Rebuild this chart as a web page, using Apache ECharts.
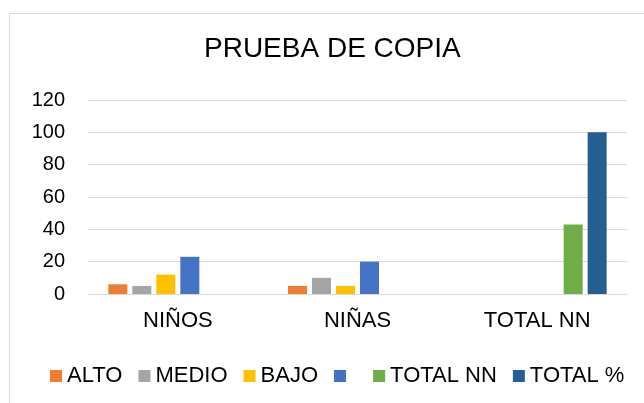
<!DOCTYPE html>
<html>
<head>
<meta charset="utf-8">
<title>PRUEBA DE COPIA</title>
<script src="https://cdn.jsdelivr.net/npm/echarts@6/dist/echarts.min.js"></script>
<style>
  html, body { margin: 0; padding: 0; background: #fff; }
  #chart { width: 644px; height: 403px; }
</style>
</head>
<body>
<div id="chart"></div>
<script>
  // datos
  const categories = ['NIÑOS', 'NIÑAS', 'TOTAL NN'];
  const alto = [6, 5, null];
  const medio = [5, 10, null];
  const bajo = [12, 5, null];
  const totalSinNombre = [23, 20, null];
  const totalNN = [null, null, 43];
  const totalPct = [null, null, 100];
  const yTicks = [0, 20, 40, 60, 80, 100, 120];

  const seriesDefs = [
    { name: 'ALTO', data: alto, color: '#ED7D31' },
    { name: 'MEDIO', data: medio, color: '#A5A5A5' },
    { name: 'BAJO', data: bajo, color: '#FFC000' },
    { name: ' ', data: totalSinNombre, color: '#4472C4' },
    { name: 'TOTAL NN', data: totalNN, color: '#70AD47' },
    { name: 'TOTAL %', data: totalPct, color: '#255E91' },
  ];

  const font = 'Liberation Sans, Arial, sans-serif';
  const myChart = echarts.init(document.getElementById('chart'));

  const getOption = () => {
    return {
      animation: false,
      textStyle: { fontFamily: font },
      graphic: [
        {
          type: 'rect',
          shape: { x: 9.5, y: 13.5, width: 700, height: 500 },
          style: { fill: 'none', stroke: '#d9d9d9', lineWidth: 1 },
          silent: true,
        },
      ],
      title: {
        text: 'PRUEBA DE COPIA',
        left: 204,
        top: 35,
        padding: 0,
        textStyle: { fontFamily: font, fontSize: 28, fontWeight: 'normal', color: '#000' },
      },
      legend: {
        top: 365,
        left: 50,
        padding: 0,
        itemWidth: 12,
        itemHeight: 12,
        itemGap: 16,
        icon: 'rect',
        textStyle: { fontFamily: font, fontSize: 22, color: '#000' },
        data: seriesDefs.map((s) => s.name),
      },
      grid: { left: 88, right: 17, top: 100, bottom: 109 },
      xAxis: {
        type: 'category',
        data: categories,
        axisLine: { lineStyle: { color: '#d9d9d9', width: 1 } },
        axisTick: { show: false },
        axisLabel: { fontFamily: font, fontSize: 22, color: '#000', margin: 16 },
      },
      yAxis: {
        type: 'value',
        min: yTicks[0],
        max: yTicks[yTicks.length - 1],
        interval: yTicks[1] - yTicks[0],
        axisLine: { show: false },
        axisTick: { show: false },
        splitLine: { lineStyle: { color: '#d9d9d9', width: 1 } },
        axisLabel: { fontFamily: font, fontSize: 20, color: '#000', margin: 23 },
      },
      series: seriesDefs.map((s) => ({
        type: 'bar',
        name: s.name,
        data: s.data,
        barWidth: 19,
        barGap: '26.3%',
        itemStyle: { color: s.color },
      })),
    };
  };

  myChart.setOption(getOption());
</script>
</body>
</html>
